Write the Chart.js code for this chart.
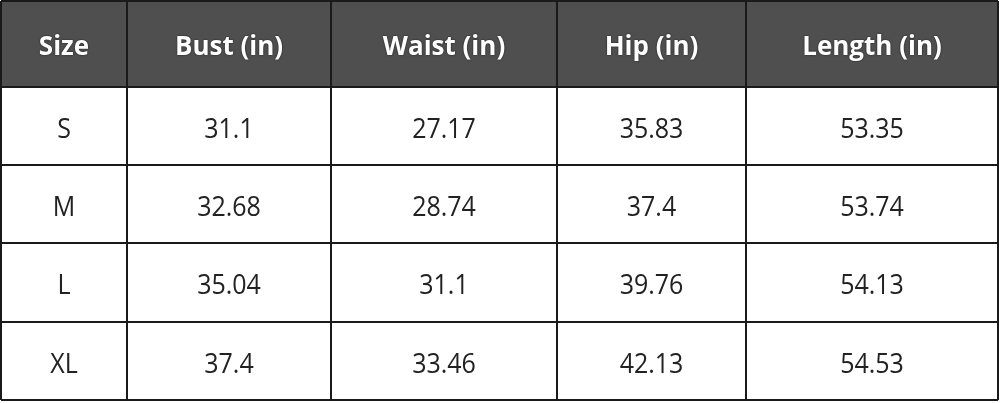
<!DOCTYPE html>
<html>
<head>
<meta charset="utf-8">
<script src="https://cdn.jsdelivr.net/npm/chart.js@4.4.0/dist/chart.umd.min.js"></script>
<style>
  html, body { margin: 0; padding: 0; background: #fff; }
  #tabla { display: block; }
</style>
</head>
<body>
<canvas id="tabla" width="1000" height="403"></canvas>
<script>
// datos de la tabla
const encabezados = ['Size', 'Bust (in)', 'Waist (in)', 'Hip (in)', 'Length (in)'];
const tallas = ['S', 'M', 'L', 'XL'];
const busto = [31.1, 32.68, 35.04, 37.4];
const cintura = [27.17, 28.74, 31.1, 33.46];
const cadera = [35.83, 37.4, 39.76, 42.13];
const largo = [53.35, 53.74, 54.13, 54.53];

// bordes de columnas y filas (en unidades de la escala)
const bordesX = [1, 127, 331, 557, 746, 998];
const bordesY = [1, 87, 165, 243, 322, 400];

const columnas = [tallas, busto, cintura, cadera, largo];
const centro = (b, i) => (b[i] + b[i + 1]) / 2;

// un punto por celda, el texto se dibuja en la posición del punto
const celdas = [];
encabezados.forEach((h, c) => {
    celdas.push({x: centro(bordesX, c), y: centro(bordesY, 0), texto: h, cabecera: true});
    columnas[c].forEach((v, r) => {
        celdas.push({x: centro(bordesX, c), y: centro(bordesY, r + 1), texto: String(v), cabecera: false});
    });
});

const pluginTabla = {
    id: 'pluginTabla',
    beforeDatasetsDraw(chart) {
        const {ctx, scales: {x, y}} = chart;
        const x0 = x.getPixelForValue(bordesX[0]), x1 = x.getPixelForValue(bordesX[bordesX.length - 1]);
        const y0 = y.getPixelForValue(bordesY[0]), yh = y.getPixelForValue(bordesY[1]);
        const y1 = y.getPixelForValue(bordesY[bordesY.length - 1]);
        ctx.save();
        ctx.fillStyle = '#4f4f4f';
        ctx.fillRect(x0, y0, x1 - x0, yh - y0);
        ctx.strokeStyle = '#1a1a1a';
        ctx.lineWidth = 2;
        bordesX.forEach(b => {
            const p = x.getPixelForValue(b);
            ctx.beginPath(); ctx.moveTo(p, y0); ctx.lineTo(p, y1); ctx.stroke();
        });
        bordesY.forEach(b => {
            const p = y.getPixelForValue(b);
            ctx.beginPath(); ctx.moveTo(x0, p); ctx.lineTo(x1, p); ctx.stroke();
        });
        ctx.restore();
    },
    afterDatasetsDraw(chart) {
        const {ctx} = chart;
        const meta = chart.getDatasetMeta(0);
        meta.data.forEach((pt, i) => {
            const celda = celdas[i];
            ctx.save();
            ctx.textAlign = 'center';
            ctx.textBaseline = 'alphabetic';
            let escalaY = 1;
            if (celda.cabecera) {
                ctx.font = 'bold 26px "Open Sans", sans-serif';
                ctx.shadowColor = 'rgba(0,0,0,0.7)';
                ctx.shadowBlur = 2;
                ctx.fillStyle = '#ffffff';
            } else {
                ctx.font = '25px "Open Sans", sans-serif';
                ctx.fillStyle = '#222222';
                escalaY = 1.12;
            }
            const alto = ctx.measureText('H').actualBoundingBoxAscent * escalaY;
            ctx.translate(pt.x, pt.y + alto / 2 + 1.5);
            ctx.scale(1, escalaY);
            ctx.fillText(celda.texto, 0, 0);
            ctx.restore();
        });
    }
};

new Chart(document.getElementById('tabla'), {
    type: 'scatter',
    data: {
        datasets: [{
            data: celdas,
            pointRadius: 0,
            pointHoverRadius: 0
        }]
    },
    options: {
        responsive: false,
        animation: false,
        devicePixelRatio: 1,
        events: [],
        layout: {padding: 0},
        plugins: {legend: {display: false}, tooltip: {enabled: false}},
        scales: {
            x: {type: 'linear', min: 0, max: 1000, display: false},
            y: {type: 'linear', min: 0, max: 403, reverse: true, display: false}
        }
    },
    plugins: [pluginTabla]
});
</script>
</body>
</html>
